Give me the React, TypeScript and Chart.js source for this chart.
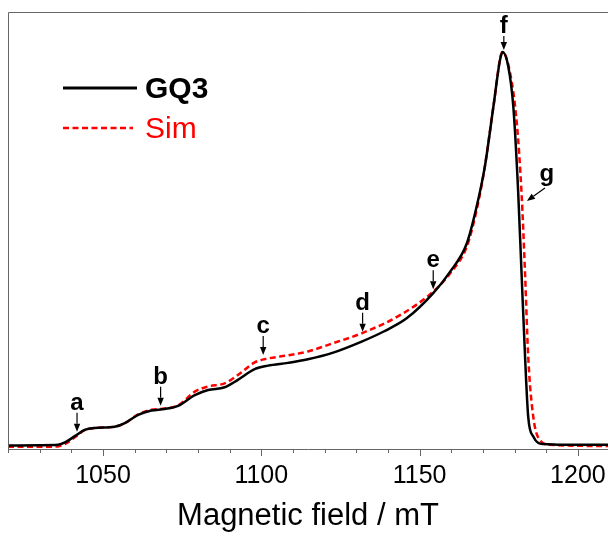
import React, { useEffect, useRef } from "react";
import { Chart, registerables } from "chart.js";

Chart.register(...registerables);

// ---- data (magnetic field in mT, normalised intensity) ----
const fieldGQ3 = [
  1020.0, 1030.0, 1035.8, 1038.4, 1041.1, 1044.2, 1047.4, 1053.7, 1056.9, 1061.1,
  1065.3, 1069.5, 1073.7, 1079.0, 1083.2, 1088.4, 1092.6, 1097.9, 1102.1, 1108.4,
  1114.7, 1122.7, 1131.7, 1138.5, 1145.9, 1154.3, 1159.6, 1164.9, 1168.0, 1170.6,
  1173.3, 1175.4, 1176.2, 1178.0, 1179.6, 1181.1, 1182.2, 1183.3, 1184.3, 1185.9,
  1189.1, 1196.4, 1209.5,
];
const intensityGQ3 = [
  0.001, 0.002, 0.003, 0.011, 0.025, 0.041, 0.046, 0.049, 0.058, 0.079,
  0.090, 0.094, 0.102, 0.129, 0.142, 0.149, 0.168, 0.195, 0.204, 0.211,
  0.220, 0.237, 0.265, 0.290, 0.324, 0.388, 0.442, 0.514, 0.607, 0.709,
  0.861, 0.980, 1.000, 0.963, 0.861, 0.650, 0.438, 0.227, 0.074, 0.024,
  0.005, 0.003, 0.003,
];
const fieldSim = [
  1020.0, 1030.0, 1035.8, 1038.4, 1041.1, 1044.2, 1047.4, 1053.7, 1056.9, 1061.1,
  1065.3, 1069.5, 1073.7, 1079.0, 1083.2, 1088.4, 1092.6, 1097.9, 1102.1, 1108.4,
  1114.7, 1122.7, 1131.7, 1143.8, 1154.3, 1159.6, 1164.9, 1168.0, 1170.6, 1173.3,
  1176.2, 1178.6, 1180.7, 1182.2, 1183.3, 1184.3, 1185.9, 1188.0, 1191.2, 1209.5,
];
const intensitySim = [
  -0.002, -0.002, -0.001, 0.007, 0.022, 0.040, 0.046, 0.049, 0.058, 0.080,
  0.092, 0.095, 0.103, 0.138, 0.151, 0.159, 0.180, 0.212, 0.222, 0.230,
  0.240, 0.261, 0.286, 0.332, 0.392, 0.438, 0.506, 0.599, 0.709, 0.861,
  1.000, 0.946, 0.819, 0.641, 0.438, 0.227, 0.074, 0.015, 0.003, 0.000,
];
const seriesNames = ["GQ3", "Sim"];
const axisTitle = "Magnetic field / mT";
const xMin = 1020;
const xMax = 1209.5;
const yMin = -0.0076;
const yMax = 1.1015;
const tickStep = 10;
const labelEvery = 50;

const markerLabels = ["a", "b", "c", "d", "e", "f", "g"];
const markerField = [1041.8, 1068.2, 1100.6, 1132.0, 1154.3, 1176.6, 1183.9];
const markerIntensity = [0.036, 0.102, 0.231, 0.29, 0.398, 1.005, 0.622];

const FONT = 'Arial, "Liberation Sans", Helvetica, sans-serif';

function drawArrow(ctx: CanvasRenderingContext2D, x1: number, y1: number, x2: number, y2: number) {
  const ang = Math.atan2(y2 - y1, x2 - x1);
  const headLen = 8;
  const headW = 3.2;
  const bx = x2 - headLen * Math.cos(ang);
  const by = y2 - headLen * Math.sin(ang);
  ctx.beginPath();
  ctx.moveTo(x1, y1);
  ctx.lineTo(bx, by);
  ctx.lineWidth = 1.2;
  ctx.strokeStyle = "#000";
  ctx.stroke();
  ctx.beginPath();
  ctx.moveTo(x2, y2);
  ctx.lineTo(bx + headW * Math.sin(ang), by - headW * Math.cos(ang));
  ctx.lineTo(bx - headW * Math.sin(ang), by + headW * Math.cos(ang));
  ctx.closePath();
  ctx.fillStyle = "#000";
  ctx.fill();
}

const overlayPlugin = {
  id: "overlay",
  afterDraw(chart: any) {
    const { ctx, chartArea, scales } = chart;
    const xs = scales.x;
    const ys = scales.y;
    ctx.save();
    // frame (top and left)
    ctx.strokeStyle = "#666";
    ctx.lineWidth = 1;
    ctx.beginPath();
    ctx.moveTo(chartArea.left + 0.5, chartArea.bottom);
    ctx.lineTo(chartArea.left + 0.5, chartArea.top + 0.5);
    ctx.lineTo(chartArea.right, chartArea.top + 0.5);
    ctx.stroke();

    // tick marks (major longer, minor shorter)
    ctx.beginPath();
    for (let v = Math.ceil(xs.min / tickStep) * tickStep; v <= xs.max + 1e-6; v += tickStep) {
      const px = Math.round(xs.getPixelForValue(v)) + 0.5;
      const len = Math.round(v) % labelEvery === 0 ? 7 : 4;
      ctx.moveTo(px, chartArea.bottom);
      ctx.lineTo(px, chartArea.bottom + len);
    }
    ctx.stroke();

    // legend
    const lx0 = 55;
    const lx1 = 129;
    ctx.lineWidth = 3;
    ctx.strokeStyle = "#000";
    ctx.beginPath();
    ctx.moveTo(lx0, 80);
    ctx.lineTo(lx1, 80);
    ctx.stroke();
    ctx.strokeStyle = "#ff0000";
    ctx.lineWidth = 2.5;
    ctx.setLineDash([6, 3.5]);
    ctx.beginPath();
    ctx.moveTo(lx0, 120);
    ctx.lineTo(lx1 - 4, 120);
    ctx.stroke();
    ctx.setLineDash([]);
    ctx.textBaseline = "middle";
    ctx.textAlign = "left";
    ctx.fillStyle = "#000";
    ctx.font = `bold 30px ${FONT}`;
    ctx.fillText(seriesNames[0], 137, 82);
    ctx.fillStyle = "#ff0000";
    ctx.font = `30px ${FONT}`;
    ctx.fillText(seriesNames[1], 137, 122);

    // markers
    ctx.font = `bold 24px ${FONT}`;
    ctx.fillStyle = "#000";
    ctx.textAlign = "center";
    ctx.textBaseline = "alphabetic";
    markerLabels.forEach((lab, i) => {
      const px = xs.getPixelForValue(markerField[i]);
      const py = ys.getPixelForValue(markerIntensity[i]);
      if (lab === "g") {
        drawArrow(ctx, px + 18, py - 13, px, py);
        ctx.fillStyle = "#000";
        ctx.fillText(lab, px + 20, py - 20);
      } else {
        const len = lab === "f" ? 14 : 19;
        drawArrow(ctx, px, py - len, px, py);
        ctx.fillStyle = "#000";
        ctx.fillText(lab, px, py - len - 3);
      }
    });
    ctx.restore();
  },
};

export default function App() {
  const canvasRef = useRef<HTMLCanvasElement | null>(null);

  useEffect(() => {
    const canvas = canvasRef.current;
    if (!canvas) return;
    const chart = new Chart(canvas, {
      type: "line",
      data: {
        datasets: [
          {
            label: seriesNames[0],
            data: fieldGQ3.map((x, i) => ({ x, y: intensityGQ3[i] })),
            borderColor: "#000000",
            borderWidth: 2.5,
            pointRadius: 0,
            cubicInterpolationMode: "monotone",
            fill: false,
          },
          {
            label: seriesNames[1],
            data: fieldSim.map((x, i) => ({ x, y: intensitySim[i] })),
            borderColor: "#ff0000",
            borderWidth: 2.5,
            borderDash: [6, 3.5],
            pointRadius: 0,
            cubicInterpolationMode: "monotone",
            fill: false,
          },
        ],
      },
      options: {
        animation: false,
        responsive: false,
        devicePixelRatio: 1,
        layout: { padding: { top: 4, left: 0, right: 0, bottom: 0 } },
        plugins: {
          legend: { display: false },
          tooltip: { enabled: false },
        },
        scales: {
          x: {
            type: "linear",
            min: xMin,
            max: xMax,
            grid: {
              display: true,
              drawOnChartArea: false,
              drawTicks: true,
              tickLength: 12,
              color: "rgba(0,0,0,0)",
              tickColor: "rgba(0,0,0,0)",
            },
            border: { display: true, color: "#666", width: 1 },
            ticks: {
              stepSize: tickStep,
              includeBounds: false,
              autoSkip: false,
              maxRotation: 0,
              padding: 0,
              color: "#000",
              font: { family: FONT, size: 25 },
              callback: (v: any) => (Math.round(Number(v)) % labelEvery === 0 && Math.abs(Number(v) - Math.round(Number(v))) < 1e-6 ? String(v) : ""),
            },
            title: {
              display: true,
              text: axisTitle,
              color: "#000",
              font: { family: FONT, size: 31 },
              padding: { top: 0, bottom: 0 },
            },
            afterFit: (scale: any) => {
              scale.height = 86;
              scale.paddingLeft = 0;
              scale.paddingRight = 0;
            },
          },
          y: {
            type: "linear",
            min: yMin,
            max: yMax,
            display: false,
          },
        },
      },
      plugins: [overlayPlugin],
    });
    return () => chart.destroy();
  }, []);

  return (
    <div
      style={{
        position: "fixed",
        left: 0,
        top: 0,
        width: 608,
        height: 535,
        overflow: "hidden",
        background: "#fff",
      }}
    >
      <canvas
        ref={canvasRef}
        width={600}
        height={527}
        style={{ position: "absolute", left: 8, top: 8, width: 600, height: 527, display: "block" }}
      />
    </div>
  );
}
